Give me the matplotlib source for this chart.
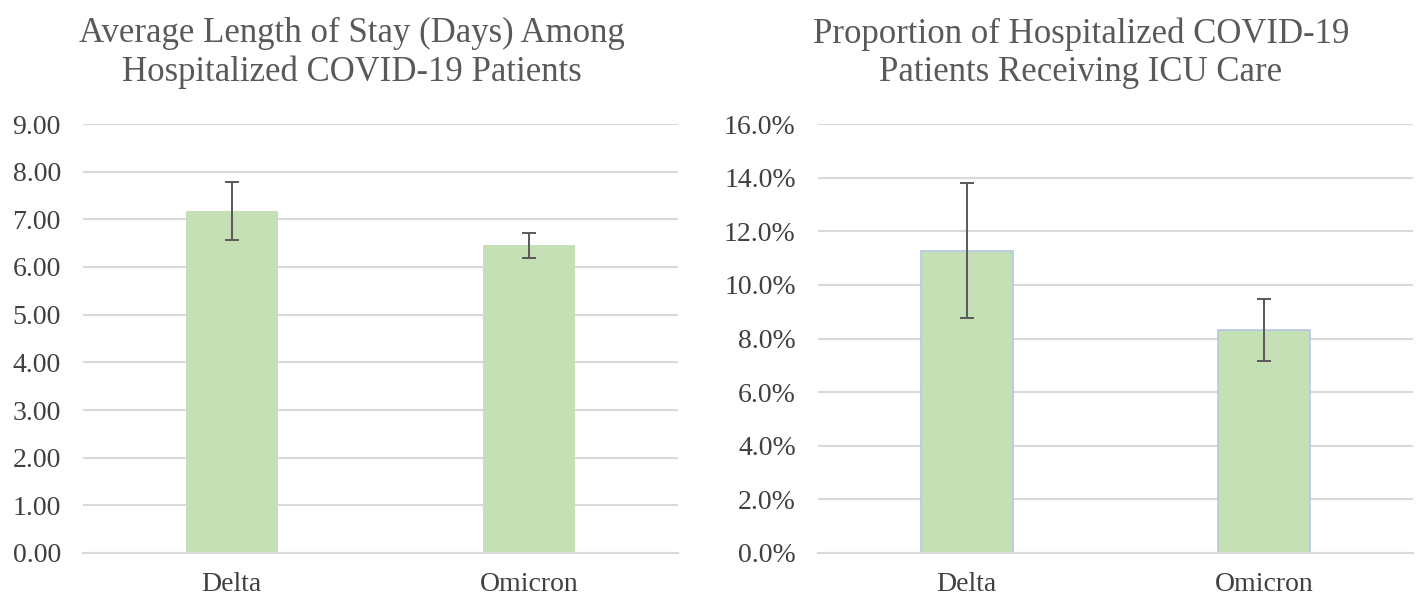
import matplotlib
matplotlib.use("Agg")
import matplotlib.pyplot as plt
from matplotlib.ticker import FuncFormatter

categories = ["Delta", "Omicron"]
los_mean = [7.17, 6.46]
los_low = [6.57, 6.19]
los_high = [7.78, 6.72]
icu_mean = [11.26, 8.32]
icu_low = [8.75, 7.16]
icu_high = [13.79, 9.47]

plt.rcParams['font.family'] = ['Liberation Serif', 'DejaVu Serif']

W, H = 1425, 597
fig = plt.figure(figsize=(W / 100, H / 100), dpi=100)

bar_color = "#c5e0b4"
err_color = "#595959"
grid_color = "#d9d9d9"
text_color = "#595959"

def make_axes(x0, means, lows, highs, ymax, step, fmt, edge):
    ax = fig.add_axes([x0 / W, 1 - 553 / H, 595 / W, (553 - 124) / H])
    x = range(len(categories))
    yerr = [[m - l for m, l in zip(means, lows)], [h - m for m, h in zip(means, highs)]]
    ax.bar(x, means, width=0.31, color=bar_color, edgecolor=edge,
           linewidth=1.2 if edge != "none" else 0, zorder=2)
    ax.errorbar(x, means, yerr=yerr, fmt="none", ecolor=err_color, elinewidth=1.4,
                capsize=5, capthick=1.4, zorder=3)
    ax.set_xlim(-0.5, len(categories) - 0.5)
    ax.set_ylim(0, ymax)
    ticks = [i * step for i in range(int(round(ymax / step)) + 1)]
    ax.set_yticks(ticks)
    ax.yaxis.set_major_formatter(FuncFormatter(fmt))
    ax.set_xticks(list(x))
    ax.set_xticklabels(categories)
    ax.grid(axis="y", color=grid_color, linewidth=1.5, zorder=0)
    ax.set_axisbelow(True)
    for s in ["top", "right", "left"]:
        ax.spines[s].set_visible(False)
    ax.spines["bottom"].set_color(grid_color)
    ax.spines["bottom"].set_linewidth(1.5)
    ax.tick_params(axis="both", length=0, labelsize=20, colors=text_color, labelcolor="#404040")
    ax.tick_params(axis="y", pad=16)
    ax.tick_params(axis="x", pad=14)
    for lbl in ax.get_yticklabels():
        lbl.set_horizontalalignment("right")
    return ax

make_axes(83, los_mean, los_low, los_high, 9, 1, lambda v, p: f"{v:.2f}", "none")
make_axes(818, icu_mean, icu_low, icu_high, 16, 2, lambda v, p: f"{v:.1f}%", "#b4c7e7")

fig.text(352 / W, 1 - 53 / H, "Average Length of Stay (Days) Among\nHospitalized COVID-19 Patients",
         ha="center", va="center", fontsize=25, color="#595959", linespacing=1.2)
fig.text(1081 / W, 1 - 53 / H, "Proportion of Hospitalized COVID-19\nPatients Receiving ICU Care",
         ha="center", va="center", fontsize=25, color="#595959", linespacing=1.2)

fig.savefig("out.png", dpi=100, facecolor="white")
